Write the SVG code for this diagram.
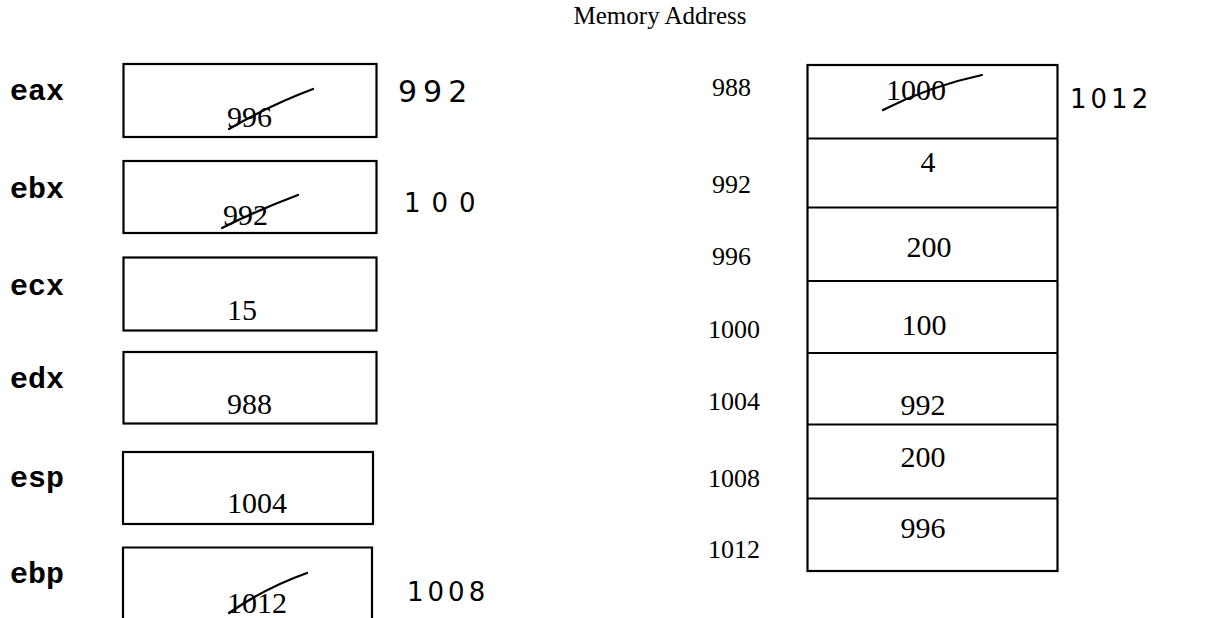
<svg xmlns="http://www.w3.org/2000/svg" width="1210" height="618" viewBox="0 0 1210 618">
  <style>
    .box { fill: none; stroke: #000; stroke-width: 2.2; }
    .reg { font-family: "Liberation Mono", "Courier New", monospace; font-weight: bold; font-size: 30px; fill: #000; }
    .val { font-family: "Liberation Serif", "Times New Roman", serif; font-size: 30px; fill: #000; }
    .addr { font-family: "Liberation Serif", "Times New Roman", serif; font-size: 26px; fill: #000; }
    .title { font-family: "Liberation Serif", "Times New Roman", serif; font-size: 25px; fill: #000; }
    .note { font-family: "DejaVu Sans", "Noto Sans", sans-serif; font-size: 26px; fill: #000; letter-spacing: 4px; }
    .strike { fill: none; stroke: #000; stroke-width: 2.2; stroke-linecap: round; }
  </style>
  <rect width="1210" height="618" fill="#fff"/>

  <text class="title" x="660" y="24" text-anchor="middle">Memory Address</text>

  <!-- Registers -->
  <g id="reg-eax">
    <text class="reg" x="10" y="100">eax</text>
    <rect class="box" x="123.5" y="64" width="253" height="73"/>
    <text class="val" x="227" y="127">996</text>
    <path class="strike" d="M229 129 Q268 106 313 89"/>
    <text class="note" x="398" y="102" style="font-size:30px;letter-spacing:6px">992</text>
  </g>
  <g id="reg-ebx">
    <text class="reg" x="10" y="198">ebx</text>
    <rect class="box" x="123.5" y="161" width="253" height="72"/>
    <text class="val" x="223" y="225">992</text>
    <path class="strike" d="M222 228 Q258 210 298 195"/>
    <text class="note" x="404" y="212" style="letter-spacing:11px">100</text>
  </g>
  <g id="reg-ecx">
    <text class="reg" x="10" y="295">ecx</text>
    <rect class="box" x="123.5" y="257.5" width="253" height="73"/>
    <text class="val" x="227" y="320">15</text>
  </g>
  <g id="reg-edx">
    <text class="reg" x="10" y="388">edx</text>
    <rect class="box" x="123.5" y="352" width="253" height="71.5"/>
    <text class="val" x="227" y="414">988</text>
  </g>
  <g id="reg-esp">
    <text class="reg" x="10" y="487">esp</text>
    <rect class="box" x="123" y="452" width="250" height="72"/>
    <text class="val" x="227" y="513">1004</text>
  </g>
  <g id="reg-ebp">
    <text class="reg" x="10" y="583">ebp</text>
    <path class="box" d="M123 620 V547.5 H372 V620"/>
    <text class="val" x="227" y="613">1012</text>
    <path class="strike" d="M229 613 Q265 588 307 573"/>
    <text class="note" x="407" y="601">1008</text>
  </g>

  <!-- Memory column -->
  <g id="memory">
    <rect class="box" x="807.5" y="65" width="250" height="506"/>
    <g class="box">
      <line x1="807.5" y1="138.5" x2="1057.5" y2="138.5"/>
      <line x1="807.5" y1="207.5" x2="1057.5" y2="207.5"/>
      <line x1="807.5" y1="281" x2="1057.5" y2="281"/>
      <line x1="807.5" y1="353" x2="1057.5" y2="353"/>
      <line x1="807.5" y1="424.5" x2="1057.5" y2="424.5"/>
      <line x1="807.5" y1="498.5" x2="1057.5" y2="498.5"/>
    </g>
  </g>
  <g id="mem-988">
    <text class="addr" x="712" y="96">988</text>
    <text class="val" x="916" y="100" text-anchor="middle">1000</text>
    <path class="strike" d="M883 110 Q930 86 982 75"/>
    <text class="note" x="1070" y="108">1012</text>
  </g>
  <g id="mem-992">
    <text class="addr" x="712" y="193">992</text>
    <text class="val" x="928" y="172" text-anchor="middle">4</text>
  </g>
  <g id="mem-996">
    <text class="addr" x="712" y="265">996</text>
    <text class="val" x="929" y="257" text-anchor="middle">200</text>
  </g>
  <g id="mem-1000">
    <text class="addr" x="708" y="338">1000</text>
    <text class="val" x="924" y="335" text-anchor="middle">100</text>
  </g>
  <g id="mem-1004">
    <text class="addr" x="708" y="410">1004</text>
    <text class="val" x="923" y="415" text-anchor="middle">992</text>
  </g>
  <g id="mem-1008">
    <text class="addr" x="708" y="487">1008</text>
    <text class="val" x="923" y="467" text-anchor="middle">200</text>
  </g>
  <g id="mem-1012">
    <text class="addr" x="708" y="558">1012</text>
    <text class="val" x="923" y="538" text-anchor="middle">996</text>
  </g>
</svg>
